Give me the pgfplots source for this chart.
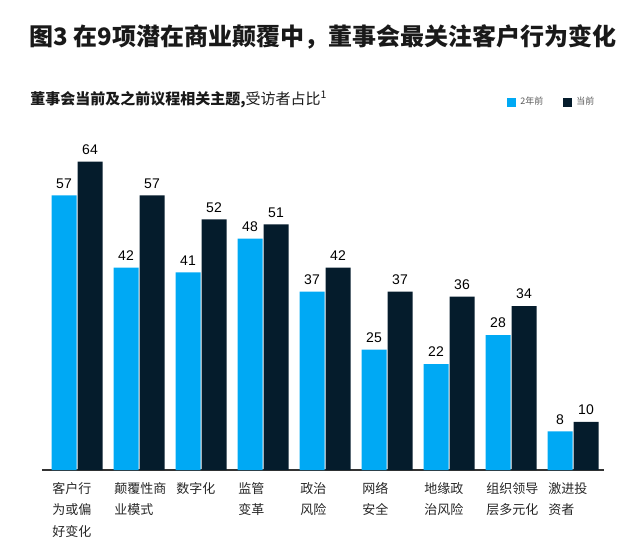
\documentclass[border=0pt]{standalone}
\usepackage{pgfplots}
\pgfplotsset{compat=1.18}
\usepackage{pgfplotstable}
\usepackage{fontspec}
\setmainfont{Liberation Sans}
\newfontfamily\cjk{Noto Sans CJK SC}
\definecolor{lightb}{HTML}{00A9F4}
\definecolor{darkb}{HTML}{051C2C}
\pgfplotsset{sqlegend/.style={legend image code/.code={\fill[##1] (0pt,-2.25pt) rectangle (4.5pt,2.25pt);}}}
\pgfplotstableread{
x prev curr
0 57 64
1 42 57
2 41 52
3 48 51
4 37 42
5 25 37
6 22 36
7 28 34
8 8 10
}\data
\begin{document}
\begin{tikzpicture}
\useasboundingbox (-21pt,-35pt) rectangle (299pt,235pt);
\begin{axis}[
  scale only axis, width=281pt, height=159pt,
  xmin=-0.565, xmax=8.5, ymin=0, ymax=66,
  clip=false,
  /pgf/number format/assume math mode=true,
  axis x line=bottom, axis y line=none,
  axis line style={-, draw=black!80, line width=0.6pt},
  ybar=0.5pt, bar width=12.5pt,
  xtick={0,...,8}, ytick=\empty, major tick length=0pt,
  xticklabels={{客户行\\为或偏\\好变化},{颠覆性商\\业模式},{数字化},{监管\\变革},{政治\\风险},{网络\\安全},{地缘政\\治风险},{组织领导\\层多元化},{激进投\\资者}},
  xticklabel style={anchor=north west, align=left, xshift=-12.5pt, yshift=-6pt, inner sep=0pt,
    font=\cjk\fontsize{6.5}{10.75}\selectfont, text=black!85},
  nodes near coords,
  nodes near coords style={font=\fontsize{7}{8}\selectfont, text=black},
  legend style={draw=none, fill=none, at={(0.8274,1.1557)}, anchor=west, legend columns=2,
    font=\cjk\fontsize{4.5}{5}\selectfont, text=black!65, inner sep=0pt,
    /tikz/every even column/.append style={column sep=8pt}},
]
\addplot[fill=lightb, draw=none, sqlegend] table[x=x, y=prev] {\data};
\addplot[fill=darkb, draw=none, sqlegend] table[x=x, y=curr] {\data};
\legend{2年前, 当前}
\end{axis}
\node[anchor=west, inner sep=0pt, font=\cjk\bfseries\fontsize{12}{14}\selectfont, text=black!90] at (-6.5pt,216.5pt) {图3 在9项潜在商业颠覆中，董事会最关注客户行为变化};
\node[anchor=west, inner sep=0pt, font=\cjk\fontsize{7.5}{9}\selectfont, text=black!90] at (-6pt,185.5pt) {{\bfseries 董事会当前及之前议程相关主题,}受访者占比\textsuperscript{1}};
\end{tikzpicture}
\end{document}
